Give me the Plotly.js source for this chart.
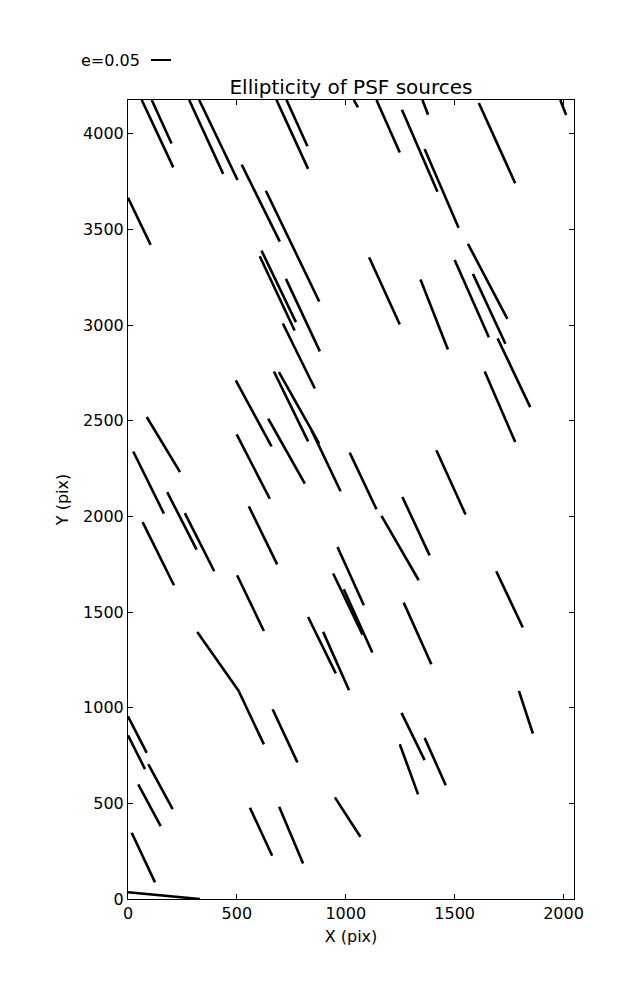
<!DOCTYPE html>
<html>
<head>
<meta charset="utf-8">
<script src="https://cdn.plot.ly/plotly-3.0.1.min.js"></script>
<style>html,body{margin:0;padding:0;background:#fff;}#chart{width:637px;height:1000px;}</style>
</head>
<body>
<div id="chart"></div>
<script>
// Whisker segments (start and end points, in pixel-grid data units)
const xStart = [63,109,281,327,522,633,682,728,0,613,605,725,711,1037,1141,1258,1362,1352,1611,1985,1107,1343,1500,1561,1584,1697,1638,495,670,693,843,644,499,86,24,180,261,67,555,501,827,896,962,942,991,318,510,1018,1164,1260,1416,1691,1266,664,0,0,93,47,17,560,694,0,950,1256,1362,1248,1795];
const yStart = [4176,4176,4176,4176,3838,3702,4176,4176,3665,3389,3359,3241,3008,4176,4176,4125,3920,4176,4160,4176,3354,3238,3340,3424,3267,2930,2757,2710,2757,2754,2449,2510,2428,2519,2339,2127,2017,1970,2052,1692,1474,1396,1840,1701,1619,1396,1083,2333,2002,2101,2345,1713,1549,992,955,855,705,599,346,477,482,35,531,973,842,809,1088];
const xEnd   = [208,200,437,503,697,878,827,824,104,771,765,881,858,1056,1248,1421,1518,1378,1778,2012,1248,1469,1657,1742,1733,1847,1778,659,827,878,976,812,651,239,165,315,396,211,685,624,954,1015,1083,1077,1122,511,624,1141,1335,1385,1550,1813,1393,778,86,78,205,150,124,662,804,330,1067,1362,1459,1332,1859];
const yEnd   = [3824,3949,3790,3758,3436,3123,3816,3934,3419,3015,2971,2862,2668,4137,3902,3697,3508,4099,3741,4098,3003,2872,2936,3032,2902,2571,2388,2366,2392,2380,2131,2171,2092,2231,2014,1826,1713,1640,1749,1401,1179,1091,1535,1382,1288,1083,808,2037,1666,1796,2010,1419,1227,714,764,679,470,381,87,226,186,0,325,726,595,547,865];

const xTicks = [0,500,1000,1500,2000];
const yTicks = [0,500,1000,1500,2000,2500,3000,3500,4000];
const xRange = [0,2048];
const yRange = [0,4176];
const keyLabel = 'e=0.05';

const xs = [], ys = [];
for (let i = 0; i < xStart.length; i++) {
  xs.push(xStart[i], xEnd[i], null);
  ys.push(yStart[i], yEnd[i], null);
}

const font = {family: 'DejaVu Sans', size: 16, color: '#000'};

const trace = {
  x: xs, y: ys, type: 'scatter', mode: 'lines',
  line: {color: '#000', width: 2.6},
  hoverinfo: 'skip', showlegend: false
};

const axisCommon = {
  showgrid: false, zeroline: false, showline: true, mirror: 'ticks',
  linecolor: '#000', linewidth: 1, ticks: 'inside', ticklen: 5, tickcolor: '#000',
  tickfont: font
};

const layout = {
  width: 637, height: 1000,
  margin: {l: 128, r: 63, t: 100, b: 101},
  paper_bgcolor: '#fff', plot_bgcolor: '#fff',
  font: font,
  title: {text: 'Ellipticity of PSF sources', font: {family: 'DejaVu Sans', size: 20, color: '#000'},
          x: 0.5, xanchor: 'center', xref: 'paper', y: 1 - 87/1000, yanchor: 'middle', yref: 'container'},
  xaxis: Object.assign({}, axisCommon, {range: xRange, tickvals: xTicks, ticktext: xTicks.map(String),
          title: {text: 'X (pix)', font: font, standoff: 8}}),
  yaxis: Object.assign({}, axisCommon, {range: yRange, tickvals: yTicks, ticktext: yTicks.map(String),
          title: {text: 'Y (pix)', font: font, standoff: 10}}),
  annotations: [{
    text: keyLabel, xref: 'paper', yref: 'paper', x: (79-128)/446, y: (899-60)/799,
    xanchor: 'left', yanchor: 'middle', showarrow: false, font: font
  }],
  shapes: [{
    type: 'line', xref: 'paper', yref: 'paper',
    x0: (151-128)/446, x1: (171-128)/446, y0: (899-60)/799, y1: (899-60)/799,
    line: {color: '#000', width: 2}
  }]
};

Plotly.newPlot('chart', [trace], layout, {displayModeBar: false, staticPlot: true});
</script>
</body>
</html>
